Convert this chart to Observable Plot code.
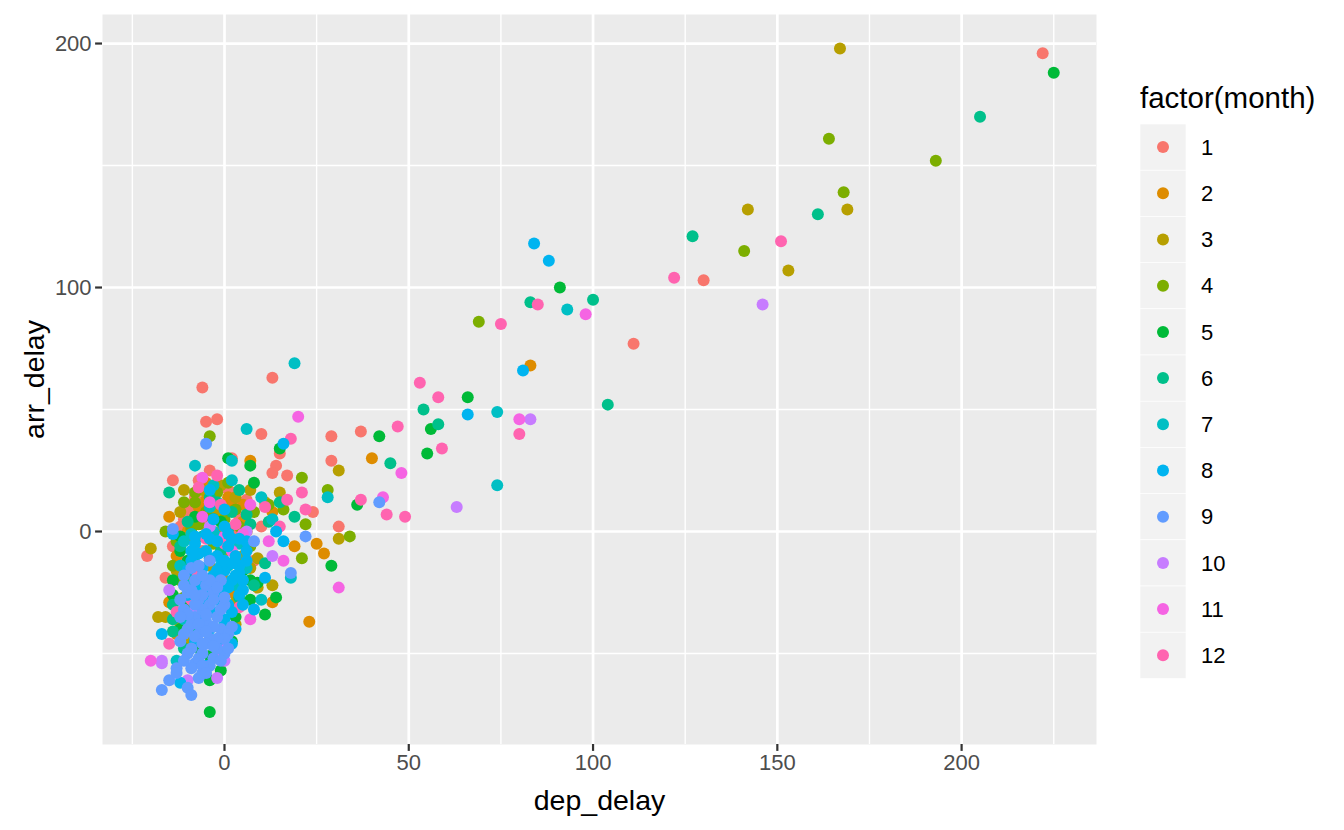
<!DOCTYPE html>
<html>
<head>
<meta charset="utf-8">
<script src="https://cdn.jsdelivr.net/npm/d3@7"></script>
<script src="https://cdn.jsdelivr.net/npm/@observablehq/plot@0.6"></script>
<style>
  html, body { margin: 0; padding: 0; background: #ffffff; }
  #wrap { position: relative; width: 1344px; height: 830px; font-family: "Liberation Sans", Arial, Helvetica, sans-serif; }
  #legend { position: absolute; left: 0; top: 0; }
</style>
</head>
<body>
<div id="wrap"><div id="chart"></div><svg id="legend" width="1344" height="830"></svg></div>
<script>
// ---- data: [dep_delay, arr_delay] per month ----
const month1 = [[222,196],[130,103],[111,77],[37,41],[29,39],[29,29],[31,2],[-6,59],[13,63],[-5,45],[-2,46],[10,40],[15,32],[2,30],[14,27],[13,24],[17,23],[-4,25],[-14,21],[-7,21],[2,16],[-10,11],[24,8],[10,2],[8,-12],[-21,-10],[-14,-6],[-12,2],[-12,-12],[-16,-19],[-8,14],[-6,-8],[-9,8],[-3,14],[4,6],[-11,5],[0,18],[6,13],[-6,3],[3,-1]];
const month2 = [[83,68],[40,30],[23,-37],[7,29],[-5,20],[-15,6],[5,11],[2,12],[13,8],[19,-6],[25,-5],[27,-9],[13,-29],[-15,-29],[-5,13],[-1,0],[0,-20],[-8,-30],[-13,-42],[-7,10],[1,14],[-10,0],[5,4],[-4,6],[-13,-10],[2,-25],[-9,-38]];
const month3 = [[167,198],[169,132],[142,132],[153,107],[31,25],[31,-3],[-20,-7],[-11,17],[-1,19],[7,17],[15,16],[9,-23],[13,-22],[9,-11],[7,-15],[3,-29],[3,-38],[-18,-35],[-16,-35],[11,12],[4,-22],[-8,5],[-10,-20],[0,-8],[-6,17],[-2,8],[3,14],[-12,8],[-9,-3],[5,-10],[-13,-16],[-10,-45],[-12,-38],[6,0],[-4,-14]];
const month4 = [[164,161],[193,152],[168,139],[141,115],[69,86],[28,17],[21,22],[22,3],[21,-11],[34,-2],[-4,39],[-16,0],[-9,1],[-8,16],[3,9],[12,11],[16,9],[8,8],[-8,12],[-3,-5],[-12,-20],[0,5],[-5,8],[-11,12],[1,20],[-7,3],[4,2],[-13,-4],[-11,-27],[-14,-14],[7,-6],[-2,16]];
const month5 = [[225,188],[91,100],[66,55],[56,42],[55,32],[42,39],[36,11],[29,-14],[15,34],[1,30],[7,27],[8,20],[-12,-8],[-14,-26],[14,-27],[7,-28],[11,-34],[9,-21],[7,-20],[-4,-61],[-4,-74],[-4,-51],[-3,5],[-10,-30],[2,-45],[-8,6],[-1,4],[-12,-2],[-14,-20],[-10,-12],[5,-16],[-12,-40],[-7,-48],[3,-35],[-1,-57]];
const month6 = [[205,170],[161,130],[127,121],[104,52],[100,95],[83,94],[54,50],[58,44],[45,28],[-15,16],[4,17],[15,12],[19,6],[12,4],[11,-13],[8,-22],[-14,-36],[-14,-41],[-2,12],[7,3],[1,1],[-6,-2],[-2,-18],[-8,-40],[-4,14],[2,8],[-10,4],[6,7],[-12,-6],[-8,-18],[-14,-30],[-11,-48],[-1,-8],[4,-27]];
const month7 = [[93,91],[74,49],[74,19],[28,14],[19,69],[6,42],[-8,27],[2,29],[2,21],[10,14],[13,5],[-4,10],[-11,-4],[18,-19],[10,-28],[-13,-53],[-8,-10],[-2,-2],[3,-13],[-6,-30],[0,-38],[4,-5],[-10,-22],[-3,19],[-9,-1],[1,-14],[-12,-14],[-7,-26],[-11,-36],[6,-15],[3,-22],[-3,0]];
const month8 = [[84,118],[88,111],[81,66],[66,48],[16,36],[-4,17],[0,9],[14,0],[16,-4],[6,-4],[6,-8],[11,-19],[8,-32],[4,-17],[5,-24],[-14,-1],[-17,-42],[-12,-62],[-5,-55],[-8,-5],[-5,-8],[-2,-10],[0,-12],[-6,-15],[-3,-18],[2,-20],[-1,-25],[-9,-12],[-4,-3],[1,-6],[3,-10],[-7,-22],[-2,-28],[-6,-35],[-10,-26],[1,-30],[-4,-40],[-8,-45],[-1,-44],[4,-14],[-5,-30],[0,2],[-3,5],[2,-3],[-5,-1],[-2,-4],[1,-1],[4,-3],[-7,-9],[-4,-11],[0,-16],[3,-18],[-1,-14],[-6,-19],[-3,-21],[1,-23],[4,-26],[2,-13],[-8,-2],[5,-20],[-2,-16],[6,-12],[-9,-8],[-5,-26],[2,-33],[3,-40],[0,-36],[2,-46],[-3,-33],[5,-30],[-10,-16]];
const month9 = [[-5,36],[-14,1],[-15,-61],[-17,-65],[-10,-64],[-9,-67],[-7,-60],[-6,-58],[0,-50],[-13,-56],[-13,-58],[-9,-15],[8,-4],[22,-2],[18,-17],[2,-39],[42,12],[-11,-18],[-8,-20],[-5,-22],[-10,-25],[-7,-28],[-4,-30],[-11,-32],[-8,-35],[-5,-37],[-2,-35],[-10,-40],[-7,-42],[-4,-44],[-1,-40],[-9,-48],[-6,-50],[-3,-52],[-12,-45],[-8,-54],[-5,-46],[-2,-48],[0,-30],[-3,-25],[-6,-32],[-9,-38],[-12,-28],[-7,-14],[-4,-12],[-1,-20],[1,-42],[-9,-24],[-6,-26],[-3,-28],[-1,-32],[-8,-30],[-5,-34],[-10,-34],[-7,-38],[-3,-39],[0,-44],[-11,-42],[-8,-43],[-5,-41],[-2,-44],[-6,-46],[-10,-50],[-7,-52],[-4,-55],[-1,-53],[-3,-47],[-9,-56],[-6,-55],[-8,-26],[-4,-20],[-11,-22],[-12,-35],[-6,-18],[-2,-23],[0,-27],[-5,-58],[-11,-53],[1,-48]];
const month10 = [[146,93],[83,46],[63,10],[13,-10],[6,0],[-15,-24],[-17,-53],[-17,-54],[-10,-61],[-2,-60],[0,-53],[0,-46],[-6,-40],[-2,-51],[-4,2],[-8,-32]];
const month11 = [[98,89],[80,46],[48,24],[43,14],[31,-23],[20,47],[12,-4],[16,-12],[7,-36],[7,11],[-6,22],[-20,-53],[-3,-25],[2,-8],[-4,12],[0,-2],[-6,6],[5,-1]];
const month12 = [[151,119],[122,104],[85,93],[75,85],[53,61],[58,55],[80,40],[59,34],[47,43],[37,13],[44,7],[49,6],[18,38],[-2,23],[17,13],[22,9],[21,16],[15,2],[11,10],[4,-31],[-15,-46],[-9,-28],[0,-5],[-7,18],[-1,11],[-5,-3],[3,3],[-8,-16],[-13,-33]];

const months = [1,2,3,4,5,6,7,8,9,10,11,12];
const monthColors = ["#F8766D","#DE8C00","#B79F00","#7CAE00","#00BA38","#00C08B","#00BFC4","#00B4F0","#619CFF","#C77CFF","#F564E3","#FF64B0"];
const xMajor = [0,50,100,150,200];
const xMinor = [-25,25,75,125,175,225];
const yMajor = [0,100,200];
const yMinor = [-50,50,150];

const byMonth = [month1,month2,month3,month4,month5,month6,month7,month8,month9,month10,month11,month12];
const drawOrder = [1,2,3,4,5,6,7,10,11,12,8,9];
const rows = [];
for (const m of drawOrder) for (const [dep, arr] of byMonth[m-1]) rows.push({dep, arr, month: m});

const FONT = "Liberation Sans, Arial, Helvetica, sans-serif";
const chart = Plot.plot({
  width: 1344, height: 830,
  marginLeft: 102, marginRight: 248, marginTop: 14, marginBottom: 86,
  x: {domain: [-33.1, 236.6]},
  y: {domain: [-87.3, 211.9]},
  color: {type: "ordinal", domain: months, range: monthColors},
  style: {fontFamily: FONT, background: "white"},
  marks: [
    Plot.frame({fill: "#EBEBEB", stroke: null}),
    Plot.ruleX(xMinor, {stroke: "white", strokeWidth: 1.4}),
    Plot.ruleY(yMinor, {stroke: "white", strokeWidth: 1.4}),
    Plot.ruleX(xMajor, {stroke: "white", strokeWidth: 2.7}),
    Plot.ruleY(yMajor, {stroke: "white", strokeWidth: 2.7}),
    Plot.dot(rows, {x: "dep", y: "arr", fill: "month", r: 6, stroke: null}),
    Plot.axisX(xMajor, {tickSize: 6.9, tickPadding: 3, fontSize: 22, color: "#333333", strokeWidth: 2.2, label: null}),
    Plot.axisY(yMajor, {tickSize: 6.9, tickPadding: 4, fontSize: 22, color: "#333333", strokeWidth: 2.2, label: null}),
    Plot.text(["dep_delay"], {frameAnchor: "bottom", dy: 56, fontSize: 28.5, fill: "black", textAnchor: "middle", lineAnchor: "middle"}),
    Plot.text(["arr_delay"], {frameAnchor: "left", dx: -68, rotate: -90, fontSize: 28.5, fill: "black", textAnchor: "middle", lineAnchor: "middle"})
  ]
});
document.getElementById("chart").appendChild(chart);
d3.select(chart).selectAll('g[aria-label$="tick label"] text, g[aria-label$="tick label"]').attr("fill", "#4D4D4D");

// ---- legend ----
const lg = d3.select("#legend");
lg.append("text").attr("x", 1140).attr("y", 108).attr("font-family", FONT).attr("font-size", 29.5).attr("fill", "black").text("factor(month)");
const keyTop = 124, keyH = 46.2;
months.forEach((m, i) => {
  const y0 = keyTop + i * keyH;
  lg.append("rect").attr("x", 1140).attr("y", y0).attr("width", 46).attr("height", keyH).attr("fill", "#F2F2F2").attr("stroke", "white").attr("stroke-width", 0.6);
  lg.append("circle").attr("cx", 1163).attr("cy", y0 + keyH / 2).attr("r", 6).attr("fill", monthColors[i]);
  lg.append("text").attr("x", 1201).attr("y", y0 + keyH / 2).attr("dy", "0.35em").attr("font-family", FONT).attr("font-size", 22).attr("fill", "black").text(String(m));
});
</script>
</body>
</html>
